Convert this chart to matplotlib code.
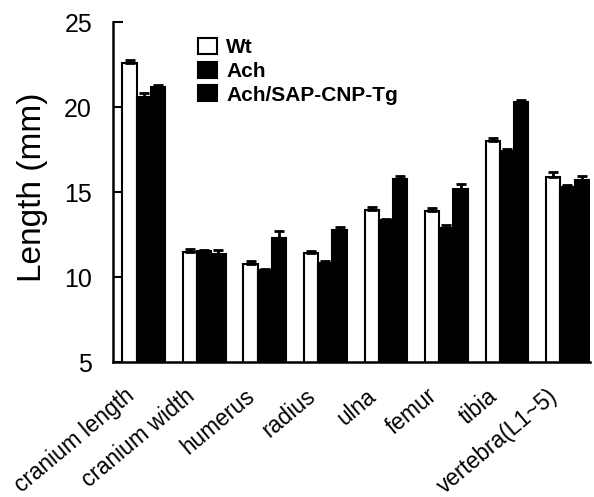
import matplotlib
matplotlib.use('Agg')
import matplotlib.pyplot as plt
import matplotlib.transforms as mtransforms
import numpy as np

plt.rcParams['font.family'] = ['Liberation Sans', 'DejaVu Sans']

# ---------- data ----------
bones = ['cranium length', 'cranium width', 'humerus', 'radius',
         'ulna', 'femur', 'tibia', 'vertebra(L1~5)']
groups = ['Wt', 'Ach', 'Ach/SAP-CNP-Tg']

wt_len = [22.6, 11.45, 10.75, 11.4, 13.94, 13.9, 18.0, 15.9]
wt_err = [0.15, 0.18, 0.2, 0.15, 0.15, 0.15, 0.15, 0.3]
ach_len = [20.6, 11.55, 10.4, 10.8, 13.35, 12.9, 17.4, 15.3]
ach_err = [0.2, 0.05, 0.05, 0.15, 0.05, 0.15, 0.15, 0.1]
tg_len = [21.2, 11.35, 12.3, 12.76, 15.76, 15.18, 20.3, 15.7]
tg_err = [0.1, 0.25, 0.38, 0.2, 0.2, 0.3, 0.1, 0.25]

yticks = [5, 10, 15, 20, 25]

fig = plt.figure(figsize=(5.94, 4.97), dpi=100)
ax = fig.add_axes([0.190, 0.2716, 0.803, 0.6841])

x = np.arange(len(bones))
w = 0.235
series = [(wt_len, wt_err, 'white'), (ach_len, ach_err, 'black'), (tg_len, tg_err, 'black')]
for k, (vals, errs, col) in enumerate(series):
    pos = x + (k - 1) * w
    ax.bar(pos, vals, width=w, color=col, edgecolor='black', linewidth=1.5,
           label=groups[k], zorder=2)
    ax.errorbar(pos, vals, yerr=[np.zeros(len(errs)), errs], fmt='none',
                ecolor='black', elinewidth=2, capsize=3.5, capthick=2, zorder=3)

ax.set_ylim(5, 25)
ax.set_xlim(-0.51, 7.37)
ax.set_yticks(yticks)
ax.set_yticklabels([str(t) for t in yticks], fontsize=18)
ax.tick_params(axis='y', direction='in', length=7, width=1.5, pad=15)
ax.tick_params(axis='x', length=0, pad=16)
ax.set_xticks(x)
ax.set_xticklabels(bones, rotation=40, ha='right', va='top',
                   rotation_mode='anchor', fontsize=16.3)
shift = mtransforms.ScaledTranslation(-20 / 100, 0, fig.dpi_scale_trans)
for lab in ax.get_xticklabels():
    lab.set_transform(lab.get_transform() + shift)

for s in ['top', 'right']:
    ax.spines[s].set_visible(False)
ax.spines['left'].set_linewidth(1.8)
ax.spines['bottom'].set_linewidth(1.8)

ax.set_ylabel('Length (mm)', fontsize=24, va='center')
ax.yaxis.set_label_coords(-0.168, 0.515)

leg = ax.legend(loc='upper left', bbox_to_anchor=(0.333, 0.924),
                bbox_transform=fig.transFigure, frameon=False,
                handlelength=0.92, handleheight=0.8, handletextpad=0.45,
                labelspacing=0.22, borderpad=0, borderaxespad=0,
                prop={'size': 15, 'weight': 'bold'})

plt.savefig('out.png', dpi=100)
plt.close()
